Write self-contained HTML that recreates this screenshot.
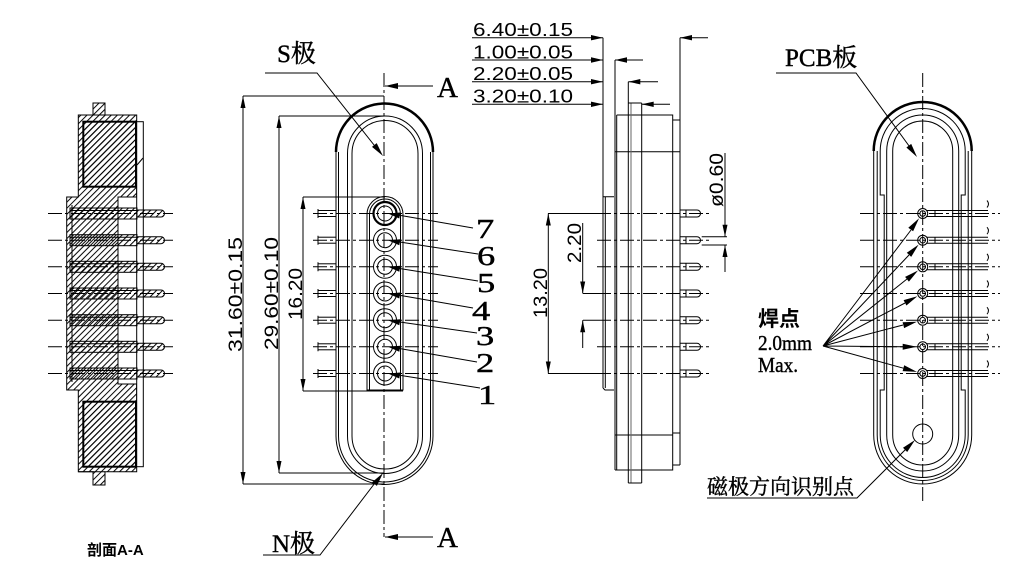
<!DOCTYPE html>
<html><head><meta charset="utf-8">
<style>
html,body{margin:0;padding:0;background:#fff;}
svg{display:block;}
.d{font-family:"Liberation Sans",sans-serif;fill:#000;stroke:none;}
.s{font-family:"Liberation Serif","Noto Serif CJK SC",serif;fill:#000;stroke:#000;stroke-width:0.4;}
.k{font-family:"Liberation Sans","Noto Sans CJK SC",sans-serif;font-weight:bold;fill:#000;stroke:none;}
.cl{stroke-dasharray:14 3 3 3;}
.f{fill:#000;stroke:none;}
</style></head><body>
<svg width="1019" height="574" viewBox="0 0 1019 574" xmlns="http://www.w3.org/2000/svg">
<defs>
<pattern id="h" width="4.3" height="4.3" patternUnits="userSpaceOnUse" patternTransform="rotate(45)">
<line x1="1" y1="0" x2="1" y2="4.3" stroke="#000" stroke-width="1"/>
</pattern>
<g id="frow">
 <line x1="313" y1="0" x2="438" y2="0" class="cl"/>
 <rect x="318" y="-3" width="18" height="6"/>
 <line x1="318" y1="-4.5" x2="318" y2="4.5"/>
 <circle cx="385" cy="0" r="11.5"/>
 <circle cx="385" cy="0" r="7.5"/>
</g>
<g id="srow">
 <rect x="70" y="-5.5" width="67" height="11" fill="url(#h)"/>
 <line x1="70" y1="-3" x2="137" y2="-3"/>
 <path d="M137,-3.5 H161 A3.5,3.5 0 0 1 161,3.5 H137 Z" fill="url(#h)"/>
 <line x1="48" y1="0" x2="173" y2="0" class="cl"/>
</g>
<g id="prow">
 <path d="M680,-3.5 H697 A3.5,3.5 0 0 1 697,3.5 H680"/>
 <line x1="686" y1="-3.5" x2="686" y2="3.5"/>
</g>
<g id="rrow">
 <line x1="860" y1="0" x2="1000" y2="0" class="cl"/>
 <circle cx="922.7" cy="0" r="5"/>
 <circle cx="922.7" cy="0" r="2.8"/>
 <path d="M927,-3 H988 M927,3 H988"/>
 <line x1="935" y1="-3" x2="935" y2="3"/>
 <path d="M987,-13 Q990,-9.5 987,-6"/>
</g>
</defs>
<rect width="1019" height="574" fill="#fff"/>

<g fill="none" stroke="#000" stroke-width="1">

<!-- ===== SECTION VIEW ===== -->
<path d="M93,103 H105 V115 H136.7 V197 H118 V384 H136.7 V471.7 H105 V485 H93 V471.7 H78.3 V390 H66.7 V197 H78.3 V115 H93 Z" fill="url(#h)"/>
<line x1="78.3" y1="115" x2="105" y2="115"/>
<line x1="78.3" y1="471.7" x2="105" y2="471.7"/>
<rect x="83.3" y="121.7" width="52.7" height="65" fill="url(#h)" stroke-width="2"/>
<rect x="83.3" y="401.7" width="52.7" height="65" fill="url(#h)" stroke-width="2"/>
<rect x="136.7" y="121.7" width="6.6" height="345" fill="#fff"/>
<line x1="137" y1="165" x2="143" y2="158"/>
<line x1="72" y1="205" x2="72" y2="382"/>
<use href="#srow" y="213.5"/>
<use href="#srow" y="240.2"/>
<use href="#srow" y="266.8"/>
<use href="#srow" y="293.5"/>
<use href="#srow" y="320.2"/>
<use href="#srow" y="346.8"/>
<use href="#srow" y="373.5"/>

<!-- ===== FRONT VIEW ===== -->
<line x1="384" y1="73" x2="384" y2="537" class="cl"/>
<path d="M336,152 A48.5,48.5 0 0 1 433,152" stroke-width="2.5"/>
<path d="M336,152 V436 A48.5,48.5 0 0 0 433,436 V152"/>
<path d="M338.5,152 V436 A46,46 0 0 0 430.5,436 V152"/>
<path d="M347.5,436 V153.5 A37.5,37.5 0 0 1 422.5,153.5 V436 A37.5,37.5 0 0 1 347.5,436 Z"/>
<path d="M352,436 V153.5 A33,33 0 0 1 418,153.5 V436 A33,33 0 0 1 352,436 Z"/>
<path d="M367,390 V214.5 A18,18 0 0 1 403,214.5 V390 Z"/>
<path d="M369.5,390 V214.5 A15.5,15.5 0 0 1 400.5,214.5 V390"/>
<use href="#frow" y="213.5"/>
<use href="#frow" y="240.2"/>
<use href="#frow" y="266.8"/>
<use href="#frow" y="293.5"/>
<use href="#frow" y="320.2"/>
<use href="#frow" y="346.8"/>
<use href="#frow" y="373.5"/>
<circle cx="385" cy="213.5" r="11.5" stroke-width="2.2"/>

<!-- dims front -->
<line x1="243" y1="96" x2="384" y2="96"/>
<line x1="243" y1="484" x2="384" y2="484"/>
<line x1="243" y1="96" x2="243" y2="484"/>
<polygon class="f" points="243,96 240.5,108 245.5,108"/>
<polygon class="f" points="243,484 240.5,472 245.5,472"/>
<line x1="279" y1="116" x2="384" y2="116"/>
<line x1="279" y1="473" x2="384" y2="473"/>
<line x1="279" y1="116" x2="279" y2="473"/>
<polygon class="f" points="279,116 276.5,128 281.5,128"/>
<polygon class="f" points="279,473 276.5,461 281.5,461"/>
<line x1="303" y1="197" x2="385" y2="197"/>
<line x1="303" y1="391" x2="403" y2="391"/>
<line x1="303" y1="197" x2="303" y2="391"/>
<polygon class="f" points="303,197 300.5,209 305.5,209"/>
<polygon class="f" points="303,391 300.5,379 305.5,379"/>
<text class="d" font-size="19" transform="translate(242,352) rotate(-90)" textLength="115" lengthAdjust="spacingAndGlyphs">31.60±0.15</text>
<text class="d" font-size="19" transform="translate(278,350) rotate(-90)" textLength="113" lengthAdjust="spacingAndGlyphs">29.60±0.10</text>
<text class="d" font-size="19" transform="translate(302,320) rotate(-90)" textLength="52" lengthAdjust="spacingAndGlyphs">16.20</text>

<!-- section arrows -->
<line x1="433" y1="86" x2="385" y2="86"/>
<polygon class="f" points="385,86 398,83 398,89"/>
<text class="s" x="437" y="97" font-size="29">A</text>
<line x1="433" y1="537" x2="385" y2="537"/>
<polygon class="f" points="385,537 398,534 398,540"/>
<text class="s" x="437" y="547" font-size="29">A</text>

<!-- S / N labels -->
<text class="s" x="277" y="62" font-size="25">S极</text>
<path d="M265,73 H317 L378,150"/>
<polygon class="f" points="383,156 372,146.9 376.7,143.1"/>
<text class="s" x="272" y="552" font-size="25">N极</text>
<path d="M263,555 H320 L378,479"/>
<polygon class="f" points="383,473 376.9,485.9 372.1,482.3"/>

<!-- pin number leaders -->
<g>
<line x1="398" y1="215" x2="473" y2="228"/>
<polygon class="f" points="388,213.5 400.3,212.5 399.3,218.5"/>
<line x1="398" y1="241.7" x2="478" y2="254"/>
<polygon class="f" points="388,240.2 400.3,239.2 399.3,245.2"/>
<line x1="398" y1="268.3" x2="478" y2="281"/>
<polygon class="f" points="388,266.8 400.3,265.8 399.3,271.8"/>
<line x1="398" y1="295" x2="473" y2="308"/>
<polygon class="f" points="388,293.5 400.3,292.5 399.3,298.5"/>
<line x1="398" y1="321.7" x2="477" y2="333"/>
<polygon class="f" points="388,320.2 400.3,319.2 399.3,325.2"/>
<line x1="398" y1="348.3" x2="477" y2="362"/>
<polygon class="f" points="388,346.8 400.3,345.8 399.3,351.8"/>
<line x1="398" y1="375" x2="480" y2="388"/>
<polygon class="f" points="388,373.5 400.3,372.5 399.3,378.5"/>
</g>
<text class="s" font-size="27" transform="translate(476,238) scale(1.35,1)">7</text>
<text class="s" font-size="27" transform="translate(477,265) scale(1.35,1)">6</text>
<text class="s" font-size="27" transform="translate(477,292) scale(1.35,1)">5</text>
<text class="s" font-size="27" transform="translate(472,320) scale(1.35,1)">4</text>
<text class="s" font-size="27" transform="translate(476,345) scale(1.35,1)">3</text>
<text class="s" font-size="27" transform="translate(476,372) scale(1.35,1)">2</text>
<text class="s" font-size="27" transform="translate(478,404) scale(1.35,1)">1</text>

<!-- ===== DIM TABLE ===== -->
<text class="d" x="473" y="36" font-size="18" textLength="100" lengthAdjust="spacingAndGlyphs">6.40±0.15</text>
<text class="d" x="473" y="58.5" font-size="18" textLength="100" lengthAdjust="spacingAndGlyphs">1.00±0.05</text>
<text class="d" x="473" y="80" font-size="18" textLength="100" lengthAdjust="spacingAndGlyphs">2.20±0.05</text>
<text class="d" x="473" y="102.5" font-size="18" textLength="100" lengthAdjust="spacingAndGlyphs">3.20±0.10</text>
<line x1="472" y1="37.7" x2="603" y2="37.7"/>
<line x1="472" y1="60" x2="603" y2="60"/>
<line x1="472" y1="81.7" x2="603" y2="81.7"/>
<line x1="472" y1="104.3" x2="603" y2="104.3"/>
<polygon class="f" points="603,37.7 591,35 591,40.4"/>
<polygon class="f" points="603,60 591,57.3 591,62.7"/>
<polygon class="f" points="603,81.7 591,79 591,84.4"/>
<polygon class="f" points="603,104.3 591,101.6 591,107"/>
<line x1="708" y1="37.7" x2="680" y2="37.7"/>
<polygon class="f" points="680,37.7 692,35 692,40.4"/>
<line x1="643" y1="60" x2="615" y2="60"/>
<polygon class="f" points="615,60 627,57.3 627,62.7"/>
<line x1="658" y1="81.7" x2="628.3" y2="81.7"/>
<polygon class="f" points="628.3,81.7 640.3,79 640.3,84.4"/>
<line x1="670" y1="104.3" x2="641.7" y2="104.3"/>
<polygon class="f" points="641.7,104.3 653.7,101.6 653.7,107"/>

<!-- ===== SIDE VIEW ===== -->
<line x1="603" y1="37.7" x2="603" y2="388"/>
<line x1="605.3" y1="196.7" x2="605.3" y2="388"/>
<path d="M603,196.7 H614 M603,388 L605,390 H614"/>
<line x1="615" y1="60" x2="615" y2="470"/>
<line x1="616.7" y1="115" x2="616.7" y2="470"/>
<path d="M616.7,115 H672.7 V470 H615"/>
<line x1="615" y1="151.7" x2="680" y2="151.7"/>
<line x1="615" y1="435" x2="672.7" y2="435"/>
<line x1="680" y1="37.7" x2="680" y2="465"/>
<path d="M672.7,120 H680 M672.7,465 H680 M672.7,433 H680"/>
<line x1="628.3" y1="81.7" x2="628.3" y2="483"/>
<line x1="631" y1="103" x2="631" y2="483" stroke="#666"/>
<line x1="641.7" y1="103" x2="641.7" y2="483"/>
<path d="M628.3,103 H641.7 M628.3,483 H641.7"/>
<use href="#prow" y="213.5"/>
<use href="#prow" y="240.2"/>
<use href="#prow" y="266.8"/>
<use href="#prow" y="293.5"/>
<use href="#prow" y="320.2"/>
<use href="#prow" y="346.8"/>
<use href="#prow" y="373.5"/>
<path d="M548,213.5 H597 M548,373.5 H597 M583,293.5 H597 M583,320.2 H597"/>
<line x1="597" y1="213.5" x2="712" y2="213.5" class="cl"/>
<line x1="597" y1="240.2" x2="712" y2="240.2" class="cl"/>
<line x1="597" y1="266.8" x2="712" y2="266.8" class="cl"/>
<line x1="597" y1="293.5" x2="712" y2="293.5" class="cl"/>
<line x1="597" y1="320.2" x2="712" y2="320.2" class="cl"/>
<line x1="597" y1="346.8" x2="712" y2="346.8" class="cl"/>
<line x1="597" y1="373.5" x2="712" y2="373.5" class="cl"/>
<line x1="548.3" y1="213.5" x2="548.3" y2="373.5"/>
<polygon class="f" points="548.3,213.5 545.8,225.5 550.8,225.5"/>
<polygon class="f" points="548.3,373.5 545.8,361.5 550.8,361.5"/>
<text class="d" font-size="19" transform="translate(547,318) rotate(-90)" textLength="50" lengthAdjust="spacingAndGlyphs">13.20</text>
<line x1="582.7" y1="223" x2="582.7" y2="293.5"/>
<polygon class="f" points="582.7,293.5 580.2,281.5 585.2,281.5"/>
<line x1="582.7" y1="320.2" x2="582.7" y2="348"/>
<polygon class="f" points="582.7,320.2 580.2,332.2 585.2,332.2"/>
<text class="d" font-size="19" transform="translate(581,263) rotate(-90)" textLength="40" lengthAdjust="spacingAndGlyphs">2.20</text>
<path d="M701.7,236.7 H727 M701.7,245 H727"/>
<line x1="725" y1="153" x2="725" y2="236.7"/>
<polygon class="f" points="725,236.7 722.5,224.7 727.5,224.7"/>
<line x1="725" y1="245" x2="725" y2="272"/>
<polygon class="f" points="725,245 722.5,257 727.5,257"/>
<text class="d" font-size="19" transform="translate(723,207) rotate(-90)" textLength="54" lengthAdjust="spacingAndGlyphs">ø0.60</text>

<!-- ===== RIGHT (PCB) VIEW ===== -->
<line x1="922.7" y1="73" x2="922.7" y2="502" class="cl"/>
<path d="M873.7,151 A49,49 0 0 1 971.7,151" stroke-width="2.5"/>
<path d="M873.7,151 V435 A49,49 0 0 0 971.7,435 V151"/>
<path d="M877.2,151 V435 A45.5,45.5 0 0 0 968.2,435 V151"/>
<path d="M880.2,195 V151 A42.5,42.5 0 0 1 965.2,151 V195 H961.2 V390 H965.2 V435 A42.5,42.5 0 0 1 880.2,435 V390 H884.2 V195 Z"/>
<path d="M886.7,435 V151 A36,36 0 0 1 958.7,151 V435 A36,36 0 0 1 886.7,435 Z"/>
<path d="M892.7,435 V151 A30,30 0 0 1 952.7,151 V435 A30,30 0 0 1 892.7,435 Z"/>
<use href="#rrow" y="213.5"/>
<use href="#rrow" y="240.2"/>
<use href="#rrow" y="266.8"/>
<use href="#rrow" y="293.5"/>
<use href="#rrow" y="320.2"/>
<use href="#rrow" y="346.8"/>
<use href="#rrow" y="373.5"/>
<circle cx="922.7" cy="434" r="10"/>

<text class="s" x="785" y="66" font-size="25">PCB板</text>
<path d="M776,73 H856 L912,150"/>
<polygon class="f" points="917,157 906.4,147.5 911.2,143.9"/>

<!-- solder leaders -->
<path d="M823,346 L911,230 M823,346 L909,255 M823,346 L907,279 M823,346 L905,303 M823,346 L903,325 M823,346 L903,346.8 M823,346 L903.4,368.2"/>
<polygon class="f" points="919.1,218.3 913.1,231.3 908.3,227.7"/>
<polygon class="f" points="918.6,244.6 911.2,256.9 906.8,252.7"/>
<polygon class="f" points="918,270.5 908.9,281.6 905.1,276.9"/>
<polygon class="f" points="917.4,296.3 906.4,305.5 903.6,300.1"/>
<polygon class="f" points="916.9,321.7 904.1,328.1 902.6,322.3"/>
<polygon class="f" points="916.7,346.8 902.7,349.8 902.7,343.8"/>
<polygon class="f" points="916.9,371.9 902.6,371.1 904.2,365.3"/>
<text class="k" x="758" y="326" font-size="21">焊点</text>
<text class="s" x="758" y="350" font-size="21" textLength="54" lengthAdjust="spacingAndGlyphs">2.0mm</text>
<text class="s" x="758" y="372" font-size="21" textLength="40" lengthAdjust="spacingAndGlyphs">Max.</text>

<text class="s" x="707" y="494" font-size="21" textLength="147" lengthAdjust="spacingAndGlyphs">磁极方向识别点</text>
<path d="M707,498 H857 L908,447"/>
<polygon class="f" points="915,440 907.2,452 903,447.8"/>

<text class="k" x="87" y="555" font-size="15">剖面A-A</text>
</g>
</svg>
</body></html>
